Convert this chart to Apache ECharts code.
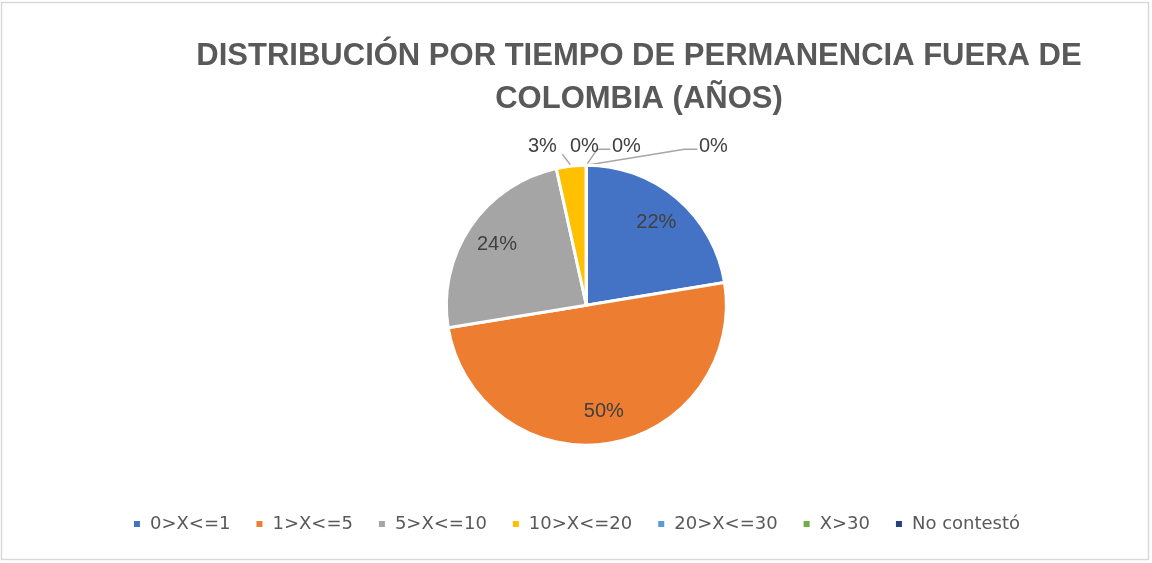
<!DOCTYPE html>
<html>
<head>
<meta charset="utf-8">
<script src="https://cdn.jsdelivr.net/npm/echarts@6/dist/echarts.min.js"></script>
<style>
  html, body { margin: 0; padding: 0; background: #fff; }
  #chart { width: 1152px; height: 563px; }
</style>
</head>
<body>
<div id="chart"></div>
<script>
// Tiempo de permanencia fuera de Colombia (número de respuestas)
const categories = ["0>X<=1", "1>X<=5", "5>X<=10", "10>X<=20", "20>X<=30", "X>30", "No contestó"];
const counts = [13, 29, 14, 2, 0, 0, 0];
const colors = ["#4472C4", "#ED7D31", "#A5A5A5", "#FFC000", "#5B9BD5", "#70AD47", "#264478"];

// categorías con etiqueta dentro del sector
const insideCount = 3;
// desplazamiento horizontal de las etiquetas pequeñas respecto al centro
const smallLabelShift = [-44, -2, 40, 127];

const CENTER = ["50.9%", "54.2%"];
const RADIUS = 140;

const chart = echarts.init(document.getElementById("chart"));

const pieData = categories.map((name, i) => ({
  name: name,
  value: counts[i],
  itemStyle: { color: colors[i] },
  label: { show: i >= insideCount },
  labelLine: { show: i >= insideCount },
}));

const fmt = (p) => Math.round(p.percent) + "%";

const option = {
  animation: false,
  backgroundColor: "#fff",
  title: {
    text: "DISTRIBUCIÓN POR TIEMPO DE PERMANENCIA FUERA DE\nCOLOMBIA (AÑOS)",
    left: 634,
    top: 30,
    textAlign: "center",
    textStyle: {
      fontFamily: "Liberation Sans",
      fontWeight: "bold",
      fontSize: 31,
      lineHeight: 43,
      color: "#595959",
    },
  },
  legend: {
    bottom: 25,
    left: "center",
    icon: "rect",
    itemWidth: 8,
    itemHeight: 8,
    itemGap: 24,
    data: categories,
    textStyle: {
      fontFamily: "DejaVu Sans",
      fontSize: 18,
      color: "#595959",
      padding: [0, 0, 0, 4],
    },
  },
  graphic: [
    {
      type: "rect",
      silent: true,
      shape: { x: 1.5, y: 2.5, width: 1147, height: 557 },
      style: { fill: null, stroke: "#d9d9d9", lineWidth: 1.5 },
    },
  ],
  series: [
    {
      // sectores + etiquetas exteriores de las categorías pequeñas
      name: "permanencia",
      type: "pie",
      center: CENTER,
      radius: [0, RADIUS],
      startAngle: 90,
      clockwise: true,
      avoidLabelOverlap: false,
      itemStyle: { borderColor: "#fff", borderWidth: 3 },
      emphasis: { disabled: true },
      label: {
        show: true,
        position: "outside",
        formatter: fmt,
        fontFamily: "Liberation Sans",
        fontSize: 20,
        color: "#404040",
      },
      labelLine: {
        show: true,
        length: 10,
        length2: 10,
        lineStyle: { color: "#A6A6A6", width: 1.5 },
      },
      labelLayout: function (params) {
        const i = params.dataIndex;
        if (i < insideCount) return {};
        const cx = chart.getWidth() * parseFloat(CENTER[0]) / 100;
        const cy = chart.getHeight() * parseFloat(CENTER[1]) / 100;
        const top = cy - RADIUS;
        const k = i - insideCount;
        const lx = cx + smallLabelShift[k];
        const ly = top - 19;
        const p0 = params.labelLinePoints ? params.labelLinePoints[0] : [cx, top];
        let pts;
        if (k === 0) {
          pts = [p0, [lx + 20, ly + 8], [lx + 20, ly + 8]];
        } else if (k === 1) {
          pts = [p0, p0, p0];
        } else {
          pts = [p0, [lx - 29, ly + 3], [lx - 16, ly + 3]];
        }
        return {
          x: lx,
          y: ly,
          align: "center",
          verticalAlign: "middle",
          labelLinePoints: pts,
        };
      },
      data: pieData,
    },
    {
      // etiquetas interiores a ~3/4 del radio
      name: "etiquetas",
      type: "pie",
      center: CENTER,
      radius: [RADIUS / 2, RADIUS],
      startAngle: 90,
      clockwise: true,
      silent: true,
      emphasis: { disabled: true },
      itemStyle: { color: "transparent", borderWidth: 0 },
      label: {
        show: true,
        position: "inside",
        formatter: (p) => (p.dataIndex < insideCount ? fmt(p) : ""),
        fontFamily: "Liberation Sans",
        fontSize: 20,
        color: "#404040",
      },
      labelLine: { show: false },
      data: categories.map((name, i) => ({
        name: name,
        value: counts[i],
        itemStyle: { color: "transparent" },
      })),
    },
  ],
};

chart.setOption(option);
</script>
</body>
</html>
